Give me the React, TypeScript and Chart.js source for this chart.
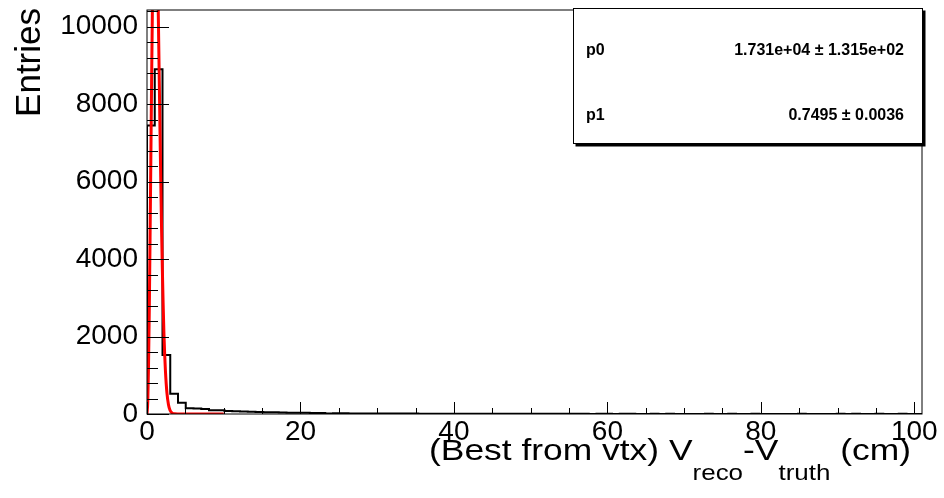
import React, { useEffect, useRef } from "react";
import { Chart, registerables } from "chart.js";

Chart.register(...registerables);

// ---------- data ----------
const X_MIN = 0;
const X_MAX = 101;
const N_BINS = 100;
const Y_MAX = 10430;

const binCounts = [
  7450, 8900, 1520, 520, 290, 150, 140, 130, 100, 95,
  80, 70, 62, 58, 52, 45, 42, 38, 35, 32,
  30, 28, 25, 15, 22, 18, 16, 15, 14, 13,
  12, 11, 11, 10, 10, 9, 9, 8, 8, 8,
  7, 7, 6, 7, 6, 6, 5, 6, 5, 5,
  5, 4, 5, 4, 4, 5, 4, 3, 4, 4,
  3, 4, 6, 3, 3, 4, 3, 5, 3, 3,
  3, 2, 4, 2, 3, 5, 2, 3, 6, 2,
  2, 3, 2, 2, 5, 2, 3, 2, 2, 4,
  2, 5, 2, 3, 5, 2, 2, 4, 2, 1,
];

const fitX = [0, 0.1, 0.2, 0.3, 0.4, 0.5, 0.6, 0.7, 0.8, 0.9, 1.0, 1.1, 1.2, 1.3, 1.4, 1.5, 1.6, 1.7, 1.8, 1.9, 2.0, 2.1, 2.2, 2.3, 2.4, 2.6, 2.8, 3.0, 3.3, 3.6, 4.0, 5, 6, 7, 8, 9, 10];
const fitY = [0, 325, 1266, 2725, 4552, 6565, 8572, 10392, 11882, 12928, 13471, 13513, 13122, 12319, 11227, 9957, 8599, 7234, 5941, 4760, 3735, 2870, 2118, 1560, 1119, 537, 240, 97, 22, 4, 0, 0, 0, 0, 0, 0, 0];

const xMajorTicks = [0, 20, 40, 60, 80, 100];
const yMajorTicks = [0, 2000, 4000, 6000, 8000, 10000];
const X_MINOR_STEP = 5;
const Y_MINOR_STEP = 400;

const statNames = ["p0", "p1"];
const statValues = ["1.731e+04 \u00B1 1.315e+02", "0.7495 \u00B1 0.0036"];
const yTitle = "Entries";
const xTitleParts = [
  { text: "(Best from vtx) V", sub: false },
  { text: "reco", sub: true },
  { text: "-V", sub: false },
  { text: "truth", sub: true },
  { text: " (cm)", sub: false },
];

const FONT = "'Liberation Sans', Arial, Helvetica, sans-serif";

// ---------- plugin ----------
const rootStyle = {
  id: "rootStyle",
  afterDatasetsDraw(chart: any) {
    const { ctx, chartArea: a, scales } = chart;
    const xs = scales.x;
    const ys = scales.y;
    ctx.save();
    ctx.strokeStyle = "#000";
    ctx.lineWidth = 1;
    ctx.strokeRect(a.left, a.top, a.right - a.left, a.bottom - a.top);

    ctx.beginPath();
    for (let v = 0; v <= Y_MAX; v += Y_MINOR_STEP) {
      const py = Math.round(ys.getPixelForValue(v)) + 0.5;
      const major = yMajorTicks.includes(v);
      ctx.moveTo(a.left, py);
      ctx.lineTo(a.left + (major ? 22 : 11), py);
    }
    for (let v = X_MIN; v <= X_MAX; v += X_MINOR_STEP) {
      const px = Math.round(xs.getPixelForValue(v)) + 0.5;
      const major = xMajorTicks.includes(v);
      ctx.moveTo(px, a.bottom);
      ctx.lineTo(px, a.bottom - (major ? 12 : 6));
    }
    ctx.stroke();

    // stat box
    const bx0 = 573.5, by0 = 8.5, bx1 = 922.5, by1 = 143.5;
    ctx.fillStyle = "#000";
    ctx.fillRect(bx0 + 2, by0 + 2, bx1 - bx0 + 1, by1 - by0 + 1);
    ctx.fillStyle = "#fff";
    ctx.fillRect(bx0, by0, bx1 - bx0, by1 - by0);
    ctx.strokeStyle = "#000";
    ctx.lineWidth = 1;
    ctx.strokeRect(bx0, by0, bx1 - bx0, by1 - by0);

    ctx.fillStyle = "#000";
    ctx.font = `bold 16px ${FONT}`;
    ctx.textBaseline = "alphabetic";
    const rows = [55, 120];
    statNames.forEach((n, i) => {
      ctx.textAlign = "left";
      ctx.fillText(n, 586, rows[i]);
      ctx.textAlign = "right";
      ctx.fillText(statValues[i], 904, rows[i]);
    });

    // y title
    ctx.save();
    ctx.translate(40, 8);
    ctx.rotate(-Math.PI / 2);
    ctx.font = `35px ${FONT}`;
    ctx.textAlign = "right";
    ctx.textBaseline = "alphabetic";
    ctx.fillText(yTitle, 0, 0);
    ctx.restore();

    // x title: pieces right-aligned, laid out from the right end
    const mainSize = 30;
    const subSize = 22;
    const stretch = 1.18;
    ctx.save();
    ctx.translate(911, 460);
    ctx.scale(stretch, 1);
    ctx.textAlign = "right";
    ctx.textBaseline = "alphabetic";
    let cx = 0;
    for (let i = xTitleParts.length - 1; i >= 0; i--) {
      const p = xTitleParts[i];
      ctx.font = `${p.sub ? subSize : mainSize}px ${FONT}`;
      ctx.fillText(p.text, cx, p.sub ? 20 : 0);
      cx -= ctx.measureText(p.text).width;
    }
    ctx.restore();

    ctx.restore();
  },
};

export default function App() {
  const ref = useRef<HTMLCanvasElement | null>(null);

  useEffect(() => {
    if (!ref.current) return;
    const bw = (X_MAX - X_MIN) / N_BINS;
    const histPts: { x: number; y: number }[] = [{ x: X_MIN, y: 0 }];
    binCounts.forEach((c, i) => histPts.push({ x: X_MIN + i * bw, y: c }));
    histPts.push({ x: X_MAX, y: binCounts[binCounts.length - 1] });
    const fitPts = fitX.map((x, i) => ({ x, y: fitY[i] }));

    const chart = new Chart(ref.current, {
      type: "line",
      data: {
        datasets: [
          {
            label: "fit",
            data: fitPts,
            borderColor: "#ff0000",
            borderWidth: 3,
            pointRadius: 0,
            cubicInterpolationMode: "monotone",
            fill: false,
            order: 0,
          },
          {
            label: "hist",
            data: histPts,
            borderColor: "#000",
            borderWidth: 2,
            pointRadius: 0,
            stepped: "before",
            fill: false,
            order: 1,
          },
        ],
      },
      options: {
        responsive: false,
        animation: false,
        layout: { padding: { left: 0, right: 22, top: 10, bottom: 0 } },
        plugins: { legend: { display: false }, tooltip: { enabled: false } },
        scales: {
          x: {
            type: "linear",
            min: X_MIN,
            max: X_MAX,
            grid: { display: false, drawTicks: false },
            border: { display: false },
            afterFit: (s: any) => {
              s.height = 84;
              s.paddingLeft = 0;
              s.paddingRight = 0;
            },
            afterBuildTicks: (s: any) => {
              s.ticks = xMajorTicks.map((v) => ({ value: v }));
            },
            ticks: {
              includeBounds: false,
              maxRotation: 0,
              autoSkip: false,
              padding: 1,
              color: "#000",
              font: { family: FONT, size: 28 },
              callback: (v: any) => String(v),
            },
          },
          y: {
            type: "linear",
            min: 0,
            max: Y_MAX,
            grid: { display: false, drawTicks: false },
            border: { display: false },
            afterFit: (s: any) => {
              s.width = 147;
              s.paddingTop = 0;
              s.paddingBottom = 0;
            },
            afterBuildTicks: (s: any) => {
              s.ticks = yMajorTicks.map((v) => ({ value: v }));
            },
            ticks: {
              includeBounds: false,
              autoSkip: false,
              padding: 9,
              color: "#000",
              font: { family: FONT, size: 28 },
              callback: (v: any) => String(v),
            },
          },
        },
      },
      plugins: [rootStyle],
    });
    return () => chart.destroy();
  }, []);

  return (
    <div style={{ position: "fixed", left: 0, top: 0, width: 944, height: 498, background: "#fff" }}>
      <canvas ref={ref} width={944} height={498} style={{ display: "block" }} />
    </div>
  );
}
